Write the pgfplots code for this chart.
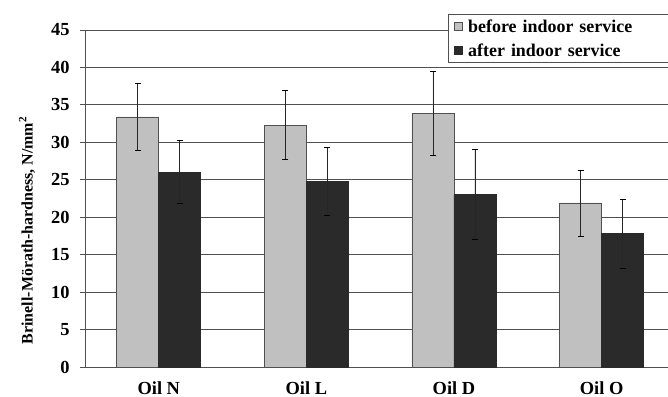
\documentclass[border=0pt]{standalone}
\usepackage{pgfplots}
\pgfplotsset{compat=1.18}
\usepackage{fontspec}
\setmainfont{Liberation Serif}

\definecolor{barlight}{RGB}{192,192,192}
\definecolor{bardark}{RGB}{42,42,42}
\definecolor{gridgray}{RGB}{80,80,80}

\pgfplotstableread{
x  before  beforeerr  after  aftererr
0  33.4    4.5        26.0   4.2
1  32.3    4.6        24.8   4.5
2  33.9    5.6        23.0   6.0
3  21.9    4.4        17.8   4.6
}\hardness

\begin{document}
\begin{tikzpicture}
\begin{axis}[
  name=ax,
  scale only axis,
  width=583bp, height=337bp,
  ybar=0pt, bar width=42bp,
  xmin=-0.5, xmax=3.45,
  ymin=0, ymax=45,
  ytick={0,5,...,45},
  xtick={0,1,2,3},
  xticklabels={Oil N, Oil L, Oil D, Oil O},
  major x tick style={draw=none},
  extra x ticks={0.5,1.5,2.5},
  extra x tick labels={},
  extra x tick style={major tick length=5bp, tick style={draw=gridgray, line width=0.8pt}},
  axis x line*=bottom, axis y line*=left,
  axis line style={draw=gridgray, line width=0.9pt, -},
  tick align=outside,
  major tick length=5bp,
  ytick style={draw=gridgray, line width=0.8pt},
  ymajorgrids, grid style={draw=gridgray, line width=0.9pt},
  /pgf/number format/assume math mode=true,
  tick label style={font=\fontsize{18.5}{21}\selectfont\bfseries},
  yticklabel style={xshift=-7bp},
  xticklabel style={yshift=-6bp},
  ylabel={Brinell-Mörath-hardness, N/mm\textsuperscript{2}},
  ylabel style={font=\fontsize{16}{19}\selectfont\bfseries, yshift=9bp, xshift=-32bp},
  legend style={at={(0.623,1.047)}, anchor=north west,
    draw=gridgray, line width=0.8pt, fill=white,
    font=\fontsize{18}{21}\selectfont\bfseries,
    row sep=6bp, inner ysep=3bp, inner xsep=5bp,
    nodes={text width=200bp}},
  legend cell align=left,
  legend image code/.code={\draw[#1, line width=0.5pt] (0bp,-4bp) rectangle (8bp,4bp); \path (12bp,0bp);},
  error bars/error bar style={draw=black!85, line width=0.8pt},
  error bars/error mark options={rotate=90, mark size=3bp, line width=0.8pt},
]
\addplot[fill=barlight, draw=gridgray, line width=0.7pt,
  error bars/.cd, y dir=both, y explicit]
  table[x=x, y=before, y error=beforeerr] {\hardness};
\addplot[fill=bardark, draw=bardark, line width=0.7pt,
  error bars/.cd, y dir=both, y explicit]
  table[x=x, y=after, y error=aftererr] {\hardness};
\legend{before indoor service, after indoor service}
\end{axis}
\pgfresetboundingbox
\path[use as bounding box] ([xshift=-85bp,yshift=-30bp]ax.south west) rectangle ([yshift=30bp]ax.north east);
\end{tikzpicture}
\end{document}
